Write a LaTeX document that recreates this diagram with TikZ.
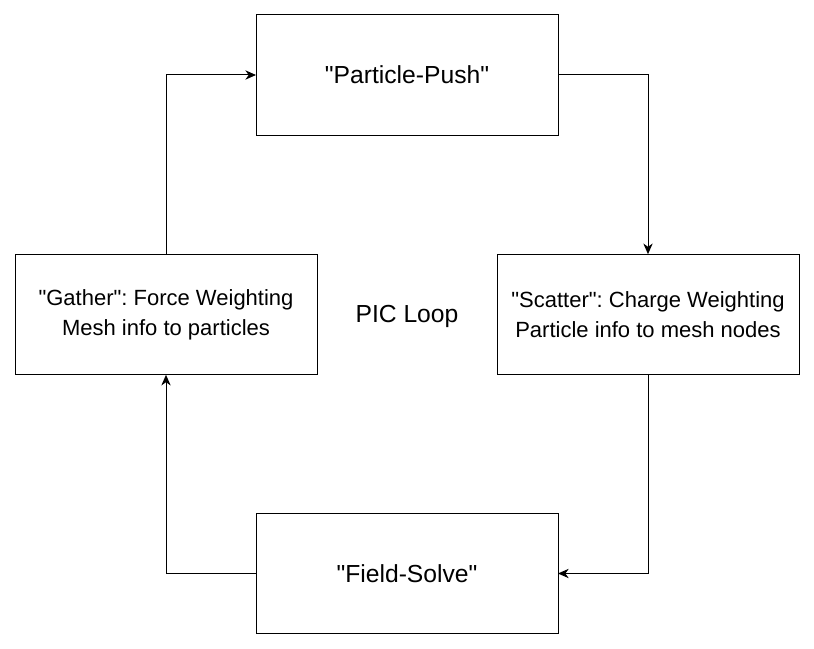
\documentclass[tikz,border=0pt]{standalone}
\usepackage{fontspec}
\setmainfont{Liberation Sans}
\usetikzlibrary{arrows.meta, positioning}
\frenchspacing
\newcommand{\qq}{\textquotedbl}
\tikzset{
    stage/.style={draw, line width=0.75pt, inner sep=0pt, outer sep=0pt,
        minimum width=226.5pt, minimum height=90.5pt, align=center},
    big/.style={font=\fontsize{18.5}{22.5}\selectfont},
    flow/.style={line width=0.75pt, -{Stealth[length=8pt, width=7pt, inset=2.5pt]}}
}

\begin{document}
\begin{tikzpicture}[x=0.75pt, y=-0.75pt]
    \tikzstyle{every node}=[font=\fontsize{16.5}{22.5}\selectfont];
    \useasboundingbox (0,0) rectangle (814,649);
    \node[stage, big] (push) at (407, 75) {\qq Particle-Push\qq};
    \node[stage] (scatter) at (648, 314.5) {\qq Scatter\qq: Charge Weighting\\Particle info to mesh nodes};
    \node[stage] (gather) at (166, 314.5) {\qq Gather\qq: Force Weighting\\Mesh info to particles};
    \node[stage, big] (solve) at (407, 573.5) {\qq Field-Solve\qq};
    \node[big] (loop) at (407, 316) {PIC Loop};
    \draw[flow] (push.east) -| (scatter.north);
    \draw[flow] (scatter.south) |- (solve.east);
    \draw[flow] (solve.west) -| (gather.south);
    \draw[flow] (gather.north) |- (push.west);
\end{tikzpicture}
\end{document}
